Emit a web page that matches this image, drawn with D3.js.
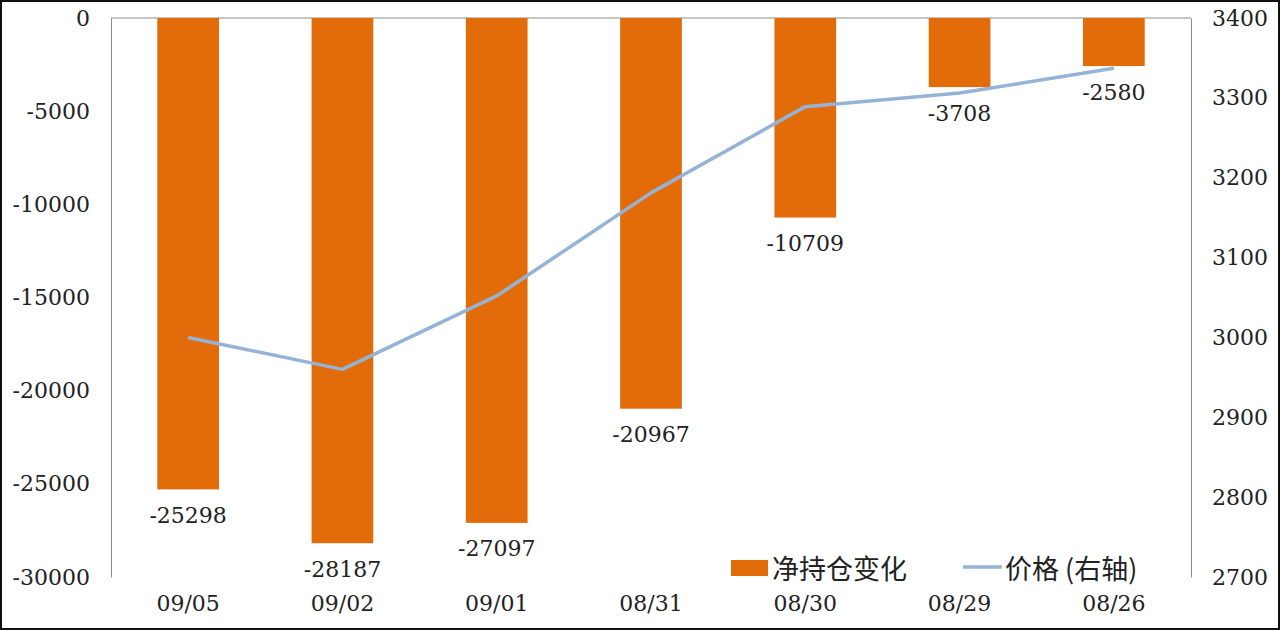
<!DOCTYPE html>
<html lang="zh">
<head>
<meta charset="utf-8">
<style>
  body { margin: 0; background: #fff; }
  .tick text { font-family: "DejaVu Serif", serif; font-size: 22px; fill: #222; }
</style>
</head>
<body>
<svg id="chart" width="1280" height="630"></svg>
<script src="https://d3js.org/d3.v7.min.js"></script>
<script>
const dates = ["09/05", "09/02", "09/01", "08/31", "08/30", "08/29", "08/26"];
const netChange = [-25298, -28187, -27097, -20967, -10709, -3708, -2580];
const price = [3000, 2960, 3052, 3181, 3289, 3306, 3337];
const leftTicks = [0, -5000, -10000, -15000, -20000, -25000, -30000];
const rightTicks = [2700, 2800, 2900, 3000, 3100, 3200, 3300, 3400];

const width = 1280, height = 630;
const margins = { top: 18, right: 89, bottom: 53, left: 111 };
const plotW = width - margins.left - margins.right;
const plotH = height - margins.top - margins.bottom;

const svg = d3.select("#chart");

// outer frame
svg.append("rect")
  .attr("x", 1).attr("y", 1)
  .attr("width", width - 2).attr("height", height - 2)
  .attr("fill", "#fff").attr("stroke", "#111").attr("stroke-width", 2);

const g = svg.append("g").attr("transform", `translate(${margins.left},${margins.top})`);

const x = d3.scaleBand().domain(dates).range([0, plotW]).paddingInner(0.6).paddingOuter(0.3);
const yL = d3.scaleLinear().domain([-30000, 0]).range([plotH, 0]);
const yR = d3.scaleLinear().domain([2700, 3400]).range([plotH, 0]);

// left axis
const leftAxis = g.append("g")
  .call(d3.axisLeft(yL).tickValues(leftTicks).tickSize(0).tickPadding(21).tickFormat(d => String(d)));
leftAxis.select(".domain").attr("stroke", "#8c8c8c");

// right axis
const rightAxis = g.append("g")
  .attr("transform", `translate(${plotW},0)`)
  .call(d3.axisRight(yR).tickValues(rightTicks).tickSize(0).tickPadding(21).tickFormat(d3.format("d")));
rightAxis.select(".domain").attr("stroke", "#8c8c8c");

// category axis (crosses at 0, labels at bottom)
g.append("line")
  .attr("x1", 0).attr("x2", plotW)
  .attr("y1", yL(0)).attr("y2", yL(0))
  .attr("stroke", "#8c8c8c");

const bottomAxis = g.append("g")
  .attr("transform", `translate(0,${plotH})`)
  .call(d3.axisBottom(x).tickSize(0).tickPadding(18));
bottomAxis.select(".domain").remove();

// bars
g.selectAll("rect.bar").data(netChange)
  .join("rect")
  .attr("class", "bar")
  .attr("x", (d, i) => x(dates[i]))
  .attr("width", x.bandwidth())
  .attr("y", yL(0))
  .attr("height", d => yL(d) - yL(0))
  .attr("fill", "#E36C0A");

// bar labels
g.selectAll("text.lbl").data(netChange)
  .join("text")
  .attr("class", "lbl")
  .attr("x", (d, i) => x(dates[i]) + x.bandwidth() / 2)
  .attr("y", d => yL(d) + 26)
  .attr("text-anchor", "middle")
  .attr("dominant-baseline", "central")
  .style("font-family", "'DejaVu Serif', serif")
  .style("font-size", "22px")
  .attr("fill", "#222")
  .text(d => String(d));

// price line
const line = d3.line()
  .x((d, i) => x(dates[i]) + x.bandwidth() / 2)
  .y(d => yR(d));

g.append("path")
  .datum(price)
  .attr("d", line)
  .attr("fill", "none")
  .attr("stroke", "#95B3D7")
  .attr("stroke-width", 3.5)
  .attr("stroke-linejoin", "round");

// legend
const lg = svg.append("g");
lg.append("rect")
  .attr("x", 731).attr("y", 560).attr("width", 37).attr("height", 16)
  .attr("fill", "#E36C0A");
lg.append("text")
  .attr("x", 772).attr("y", 567)
  .attr("dominant-baseline", "central")
  .style("font-family", "'Noto Sans CJK SC', sans-serif")
  .style("font-size", "27px")
  .attr("fill", "#222")
  .text("净持仓变化");
lg.append("line")
  .attr("x1", 963).attr("x2", 1002).attr("y1", 567).attr("y2", 567)
  .attr("stroke", "#95B3D7").attr("stroke-width", 3.5);
lg.append("text")
  .attr("x", 1005).attr("y", 567)
  .attr("dominant-baseline", "central")
  .style("font-family", "'Noto Sans CJK SC', sans-serif")
  .style("font-size", "27px")
  .attr("fill", "#222")
  .text("价格 (右轴)");
</script>
</body>
</html>
